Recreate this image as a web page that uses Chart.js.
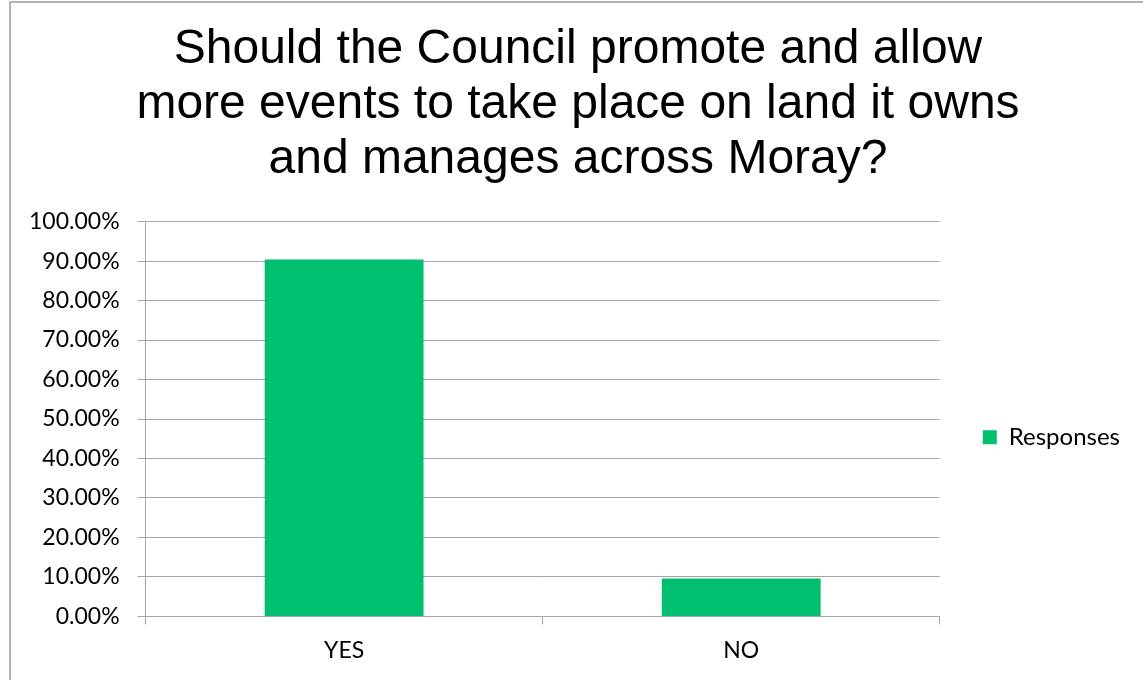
<!DOCTYPE html>
<html>
<head>
<meta charset="utf-8">
<script src="https://cdn.jsdelivr.net/npm/chart.js@4.4.0/dist/chart.umd.min.js"></script>
<style>
  html, body { margin: 0; padding: 0; background: #fff; overflow: hidden; }
  #frame {
    position: absolute; left: 9px; top: 1px;
    width: 1200px; height: 720px;
    border: 2px solid #b4b4b4;
  }
  #wrap { position: absolute; left: 0; top: 0; width: 1132px; height: 677px; }
</style>
</head>
<body>
<div id="frame">
  <div id="wrap"><canvas id="myChart"></canvas></div>
</div>
<script>
const titleLines = ['Should the Council promote and allow', 'more events to take place on land it owns', 'and manages across Moray?'];
const answers = ['YES', 'NO'];
const responses = [90.38, 9.62];
const seriesName = 'Responses';

const ctx = document.getElementById('myChart');
const lineGrey = '#a6a6a6';
const tickFont = { family: 'Lato, Carlito, sans-serif', size: 23 };

const myChart = new Chart(ctx, {
    type: 'bar',
    data: {
        labels: answers,
        datasets: [{
            label: seriesName,
            data: responses,
            backgroundColor: '#00bf6f',
            borderWidth: 0,
            barPercentage: 0.4,
            categoryPercentage: 1
        }]
    },
    options: {
        responsive: true,
        maintainAspectRatio: false,
        animation: false,
        layout: { padding: { left: 15, right: 13, top: 10, bottom: 4 } },
        plugins: {
            title: {
                display: true,
                text: titleLines,
                color: '#000',
                font: { family: '"Liberation Sans", Arial, sans-serif', size: 48, weight: 'normal', lineHeight: 1.15 },
                padding: { top: 9, bottom: 34 }
            },
            legend: {
                position: 'right',
                fullSize: false,
                // empty legend title only nudges the entry down a little
                title: { display: true, text: ' ', font: { size: 12 }, padding: { top: 0, bottom: 22 } },
                labels: {
                    boxWidth: 14,
                    boxHeight: 14,
                    padding: 43,
                    color: '#000',
                    font: { family: 'Lato, Carlito, sans-serif', size: 24 }
                }
            },
            tooltip: { enabled: false }
        },
        scales: {
            x: {
                grid: {
                    offset: true,
                    drawOnChartArea: false,
                    drawTicks: true,
                    tickLength: 8,
                    color: lineGrey
                },
                border: { color: lineGrey },
                ticks: { color: '#000', font: tickFont, padding: 12 }
            },
            y: {
                min: 0,
                max: 100,
                // keep the axis where it was after the extra left padding
                afterFit: scale => { scale.width -= 15; },
                grid: {
                    color: lineGrey,
                    tickLength: 8
                },
                border: { color: lineGrey },
                ticks: {
                    stepSize: 10,
                    color: '#000',
                    font: tickFont,
                    padding: 18,
                    callback: v => v.toFixed(2) + '%'
                }
            }
        }
    }
});
</script>
</body>
</html>
